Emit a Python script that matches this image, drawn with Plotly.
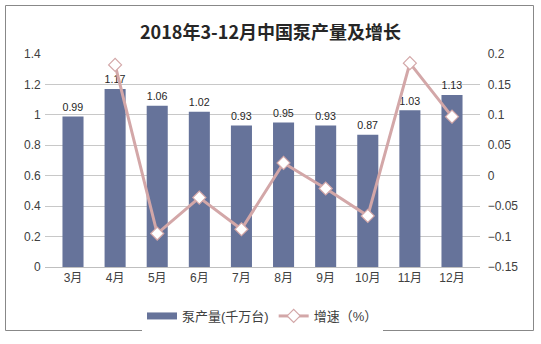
import plotly.graph_objects as go

months = ["3月", "4月", "5月", "6月", "7月", "8月", "9月", "10月", "11月", "12月"]
output = [0.99, 1.17, 1.06, 1.02, 0.93, 0.95, 0.93, 0.87, 1.03, 1.13]
growth = [None, 0.182, -0.095, -0.036, -0.088, 0.021, -0.021, -0.066, 0.185, 0.097]

W, H = 541, 344
L, R, T, B = 45, 61, 54, 77
FONT = "Liberation Sans, Arial, Noto Sans CJK SC, sans-serif"
TITLE_FONT = "Noto Sans CJK SC, Microsoft YaHei, sans-serif"
BAR_COLOR = "#66739a"
LINE_COLOR = "#d3a7a8"

fig = go.Figure()
fig.add_trace(go.Bar(
    x=months, y=output, name="泵产量(千万台)", showlegend=False,
    marker=dict(color=BAR_COLOR, line=dict(width=0)),
    width=0.5,
    text=[f"{v:g}" for v in output], textposition="outside",
    textfont=dict(size=12, color="#262626"),
    cliponaxis=False,
))
# wide flat swatch for the bar series in the legend
fig.add_trace(go.Scatter(
    x=[None], y=[None], name="泵产量(千万台)", mode="lines",
    line=dict(color=BAR_COLOR, width=7),
))
fig.add_trace(go.Scatter(
    x=months, y=growth, name="增速（%）", yaxis="y2",
    mode="lines+markers",
    line=dict(color=LINE_COLOR, width=3),
    marker=dict(symbol="diamond", size=10, color="white",
                line=dict(color=LINE_COLOR, width=1.2)),
    cliponaxis=False,
))

pw = W - L - R
ph = H - T - B
def px(x):
    return (x - L) / pw
def py(y):
    return (H - B - y) / ph

fig.update_layout(
    width=W, height=H,
    margin=dict(l=L, r=R, t=T, b=B),
    paper_bgcolor="white", plot_bgcolor="white",
    font=dict(family=FONT, size=12, color="#595959"),
    title=dict(text="<b>2018年3-12月中国泵产量及增长</b>", x=0.5, xanchor="center",
               y=1 - 33 / H, yanchor="middle",
               font=dict(size=18, color="#262626", family=TITLE_FONT)),
    bargap=0.5,
    xaxis=dict(showgrid=False, showline=True, linecolor="#bfbfbf", linewidth=1,
               ticks="", tickfont=dict(size=12, color="#404040")),
    yaxis=dict(range=[0, 1.4], dtick=0.2, showgrid=True, gridcolor="#c8c8c8",
               gridwidth=1, zeroline=False, showline=False,
               tickfont=dict(size=12, color="#404040"), ticksuffix=" "),
    yaxis2=dict(range=[-0.15, 0.2], dtick=0.05, overlaying="y", side="right",
                showgrid=False, zeroline=False, showline=False,
                tickfont=dict(size=12, color="#404040"), tickprefix="  "),
    legend=dict(orientation="h", x=0.5, xanchor="center",
                y=py(316), yanchor="middle",
                font=dict(size=13, color="#404040"), itemwidth=30),
    showlegend=True,
    shapes=[dict(type="rect", xref="paper", yref="paper",
                 x0=px(5.5), x1=px(533.5), y0=py(330.5), y1=py(5.5),
                 line=dict(color="#888888", width=1), layer="below")],
)

fig.write_html("out.html")
